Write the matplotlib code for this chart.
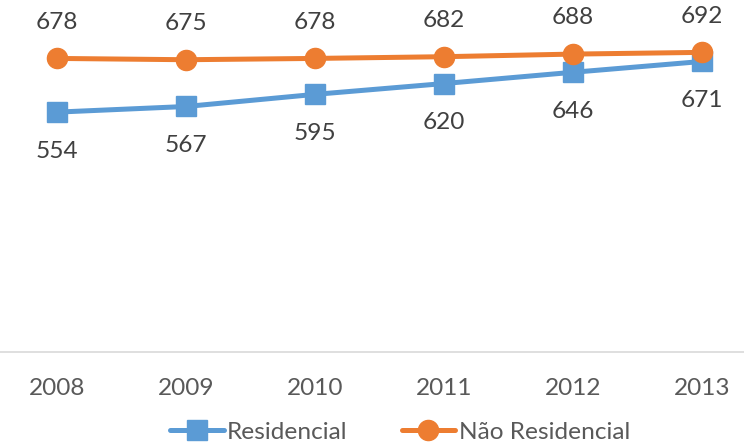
import matplotlib
matplotlib.use("Agg")
import matplotlib.pyplot as plt

years = ["2008", "2009", "2010", "2011", "2012", "2013"]
residencial = [554, 567, 595, 620, 646, 671]
nao_residencial = [678, 675, 678, 682, 688, 692]

BLUE = "#5B9BD5"
ORANGE = "#ED7D31"

plt.rcParams["font.family"] = ["Lato", "DejaVu Sans"]

W, H = 744, 448
fig = plt.figure(figsize=(W / 100, H / 100), dpi=100)
# axes slightly wider than the canvas so the outer category halves are clipped
left_px, right_px = -7.5, 766.5
bottom_px, top_px = 352, 5.6
ax = fig.add_axes([left_px / W, (H - bottom_px) / H,
                   (right_px - left_px) / W, (bottom_px - top_px) / H])

x = list(range(len(years)))
ax.plot(x, residencial, color=BLUE, lw=3.6, marker="s", ms=14, zorder=3,
        label="Residencial", solid_capstyle="round")
ax.plot(x, nao_residencial, color=ORANGE, lw=3.6, marker="o", ms=14.5, zorder=4,
        label="Não Residencial", solid_capstyle="round")

FS = 17.6
for xi, v in zip(x, nao_residencial):
    ax.annotate(str(v), (xi, v), xytext=(0, 26), textcoords="offset points",
                ha="center", va="center", fontsize=FS, color="#404040")
for xi, v in zip(x, residencial):
    ax.annotate(str(v), (xi, v), xytext=(0, -28), textcoords="offset points",
                ha="center", va="center", fontsize=FS, color="#404040")

ax.set_xlim(-0.5, len(years) - 0.5)
ax.set_ylim(0, 800)
ax.set_xticks(x)
ax.set_xticklabels(years, fontsize=FS, color="#595959")
ax.tick_params(axis="x", length=0, pad=18.5)
ax.set_yticks([])
for side in ("left", "right", "top"):
    ax.spines[side].set_visible(False)
ax.spines["bottom"].set_color("#D9D9D9")
ax.spines["bottom"].set_linewidth(1.2)

fig.legend(loc="center", bbox_to_anchor=(400 / W, 1 - 432 / H), ncol=2,
           frameon=False, fontsize=FS, labelcolor="#595959",
           handlelength=2.2, handletextpad=0.15, columnspacing=2.2,
           borderaxespad=0, borderpad=0)

fig.savefig("out.png", dpi=100)
